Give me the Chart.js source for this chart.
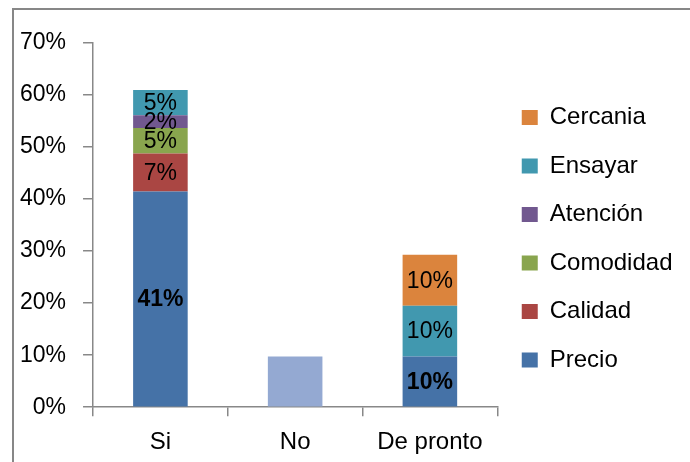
<!DOCTYPE html>
<html>
<head>
<meta charset="utf-8">
<script src="https://cdn.jsdelivr.net/npm/chart.js@4/dist/chart.umd.min.js"></script>
<style>
  html, body { margin: 0; padding: 0; background: #ffffff; }
  #wrap { width: 690px; height: 462px; position: relative; }
</style>
</head>
<body>
<div id="wrap"><canvas id="chart"></canvas></div>
<script>
// Survey answers, share of respondents (%)
const categories = ['Si', 'No', 'De pronto'];
const precio     = [41.46, 0, 9.76];
const calidad    = [7.32, 0, 0];
const comodidad  = [4.88, 0, 0];
const atencion   = [2.44, 0, 0];
const ensayar    = [4.88, 0, 9.76];
const cercania   = [0, 0, 9.76];
const respuestaNo = [0, 9.76, 0];
const yTicks = [0, 10, 20, 30, 40, 50, 60, 70];

const FONT = "'Liberation Sans', Arial, sans-serif";
const AXIS_GREY = '#888888';

// thin frame around the chart
const framePlugin = {
  id: 'frame',
  beforeDraw(chart) {
    const ctx = chart.ctx;
    ctx.save();
    ctx.fillStyle = '#878787';
    ctx.fillRect(12, 8, chart.width - 12, 2);
    ctx.fillRect(12, 8, 2, chart.height - 8);
    ctx.restore();
  }
};

// let the legend use the space up to the canvas edge so long labels are not cut
const legendRoom = {
  id: 'legendRoom',
  afterLayout(chart) {
    const lg = chart.legend;
    if (lg) {
      lg.right = chart.width;
      lg.width = lg.right - lg.left;
    }
  }
};

// percentage labels centred in each bar segment
const segmentLabels = {
  id: 'segmentLabels',
  afterDatasetsDraw(chart) {
    const ctx = chart.ctx;
    ctx.save();
    ctx.textAlign = 'center';
    ctx.textBaseline = 'middle';
    ctx.fillStyle = '#000000';
    chart.data.datasets.forEach((ds, i) => {
      if (ds.noLabels) return;
      const meta = chart.getDatasetMeta(i);
      meta.data.forEach((bar, j) => {
        const v = ds.data[j];
        if (!v) return;
        const p = bar.getProps(['x', 'y', 'base'], true);
        ctx.font = (ds.boldLabels ? 'bold ' : '') + '23px ' + FONT;
        ctx.fillText(Math.round(v) + '%', p.x, (p.y + p.base) / 2 + 1);
      });
    });
    ctx.restore();
  }
};

const barOpts = { barPercentage: 0.405, categoryPercentage: 1, borderWidth: 0 };

new Chart(document.getElementById('chart'), {
  type: 'bar',
  data: {
    labels: categories,
    datasets: [
      { label: 'Precio', data: precio, backgroundColor: '#4572A7', boldLabels: true, ...barOpts },
      { label: 'Calidad', data: calidad, backgroundColor: '#AA4643', ...barOpts },
      { label: 'Comodidad', data: comodidad, backgroundColor: '#89A54E', ...barOpts },
      { label: 'Atención', data: atencion, backgroundColor: '#71588F', ...barOpts },
      { label: 'Ensayar', data: ensayar, backgroundColor: '#4198AF', ...barOpts },
      { label: 'Cercania', data: cercania, backgroundColor: '#DB843D', ...barOpts },
      { label: 'No', data: respuestaNo, backgroundColor: '#94A9D2', noLabels: true, ...barOpts }
    ]
  },
  options: {
    responsive: true,
    maintainAspectRatio: false,
    animation: false,
    layout: { padding: { left: 3, right: 28, top: 43, bottom: -7 } },
    plugins: {
      tooltip: { enabled: false },
      legend: {
        position: 'right',
        fullSize: false,
        reverse: true,
        title: { display: true, text: '', font: { size: 10, lineHeight: 1 }, padding: { top: 17.5, bottom: 0 } },
        labels: {
          filter: (item) => item.text !== 'No',
          boxWidth: 16,
          boxHeight: 15,
          padding: 24.5,
          color: '#000000',
          font: { family: FONT, size: 24 }
        }
      }
    },
    scales: {
      x: {
        stacked: true,
        grid: { drawOnChartArea: false, drawTicks: true, tickLength: 9, color: AXIS_GREY, lineWidth: 1.5 },
        border: { color: AXIS_GREY, width: 1.5 },
        ticks: { color: '#000000', padding: 12, maxRotation: 0, font: { family: FONT, size: 24 } }
      },
      y: {
        stacked: true,
        min: 0,
        max: 70,
        afterBuildTicks: (scale) => { scale.ticks = yTicks.map(v => ({ value: v })); },
        grid: { drawOnChartArea: false, drawTicks: true, tickLength: 10, color: AXIS_GREY, lineWidth: 1.5 },
        border: { color: AXIS_GREY, width: 1.5 },
        ticks: { color: '#000000', padding: 17, callback: (v) => v + '%', font: { family: FONT, size: 23 } }
      }
    }
  },
  plugins: [framePlugin, legendRoom, segmentLabels]
});
</script>
</body>
</html>
